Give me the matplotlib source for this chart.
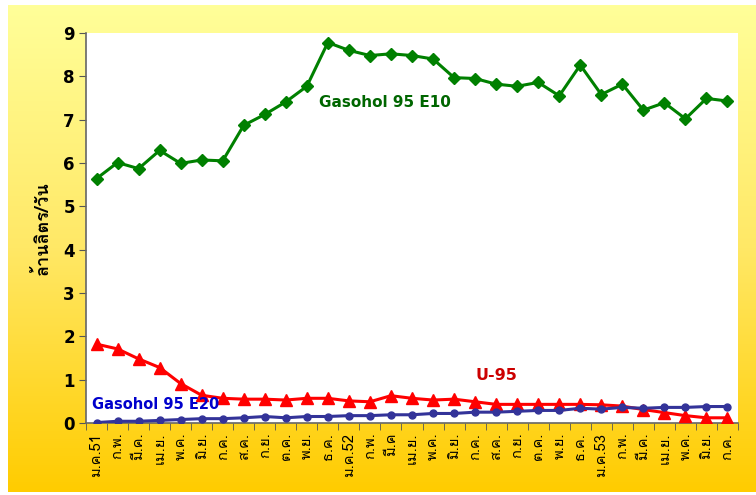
import numpy as np
import matplotlib
matplotlib.use("Agg")
import matplotlib.pyplot as plt
from matplotlib import font_manager
from matplotlib.colors import LinearSegmentedColormap

# ---- data ----
months = ["ม.ค.51", "ก.พ.", "มี.ค.", "เม.ย.", "พ.ค.", "มิ.ย.", "ก.ค.", "ส.ค.", "ก.ย.", "ต.ค.", "พ.ย.", "ธ.ค.",
          "ม.ค.52", "ก.พ.", "มี.ค", "เม.ย.", "พ.ค.", "มิ.ย.", "ก.ค.", "ส.ค.", "ก.ย.", "ต.ค.", "พ.ย.", "ธ.ค.",
          "ม.ค.53", "ก.พ.", "มี.ค.", "เม.ย.", "พ.ค.", "มิ.ย.", "ก.ค."]
e10 = [5.64, 6.01, 5.87, 6.29, 5.99, 6.07, 6.05, 6.87, 7.12, 7.41, 7.77, 8.78,
       8.60, 8.48, 8.52, 8.48, 8.40, 7.97, 7.95, 7.82, 7.77, 7.86, 7.55, 8.26,
       7.58, 7.82, 7.22, 7.39, 7.02, 7.49, 7.43]
u95 = [1.82, 1.71, 1.48, 1.28, 0.91, 0.64, 0.57, 0.55, 0.55, 0.53, 0.57, 0.57,
       0.51, 0.49, 0.63, 0.57, 0.53, 0.55, 0.49, 0.43, 0.43, 0.43, 0.43, 0.43,
       0.42, 0.39, 0.31, 0.24, 0.17, 0.12, 0.12]
e20 = [0.01, 0.04, 0.04, 0.06, 0.08, 0.10, 0.10, 0.12, 0.15, 0.12, 0.15, 0.15,
       0.17, 0.17, 0.19, 0.19, 0.22, 0.22, 0.25, 0.25, 0.27, 0.29, 0.29, 0.34,
       0.32, 0.36, 0.34, 0.36, 0.36, 0.38, 0.38]
yticks = list(range(0, 10))

# ---- fonts: find one with Thai glyphs ----
def find_thai_fonts():
    fams = []
    try:
        from fontTools.ttLib import TTFont
    except Exception:
        return fams
    for fe in font_manager.fontManager.ttflist:
        if fe.name in fams:
            continue
        try:
            f = TTFont(fe.fname, fontNumber=0, lazy=True)
            cmap = f.getBestCmap()
            if cmap and ord("ก") in cmap and ord("ล") in cmap:
                fams.append(fe.name)
        except Exception:
            pass
    return fams

thai = find_thai_fonts()
pref = ["Tahoma", "Loma", "Garuda", "Noto Sans Thai Looped", "Noto Sans Thai", "Noto Sans Thai UI", "Sarabun"]
thai_sorted = [p for p in pref if p in thai] + [t for t in thai if t not in pref]
family = thai_sorted[:1] + ["DejaVu Sans"]
plt.rcParams["font.family"] = family

W, H = 756, 495
fig = plt.figure(figsize=(W / 100, H / 100), dpi=100)
fig.patch.set_facecolor("white")

# gradient background
bg = fig.add_axes([8 / W, 1 - 492 / H, (756 - 8) / W, (492 - 5) / H], zorder=0)
cmap = LinearSegmentedColormap.from_list("g", ["#FFFF99", "#FFE866", "#FFCC00"])
grad = np.linspace(0, 1, 256).reshape(-1, 1)
bg.imshow(grad, aspect="auto", cmap=cmap, extent=[0, 1, 1, 0])
bg.set_axis_off()

ax = fig.add_axes([86 / W, 1 - 423 / H, (738 - 86) / W, (423 - 33) / H], zorder=1)
ax.set_facecolor("white")
x = np.arange(len(months))

ax.plot(x, e10, color="#008000", lw=2.2, marker="D", ms=6.5, mec="#008000", mfc="#008000", zorder=3)
ax.plot(x, u95, color="#FF0000", lw=2.2, marker="^", ms=9, mec="#FF0000", mfc="#FF0000", zorder=3)
ax.plot(x, e20, color="#333399", lw=2.2, marker="o", ms=5, mec="#333399", mfc="#333399", zorder=4)

ax.set_xlim(-0.5, len(months) - 0.5)
ax.set_ylim(0, 9)
ax.set_yticks(yticks)
ax.set_yticklabels([str(v) for v in yticks], fontsize=12, fontweight="bold", family=["DejaVu Sans"])
ax.set_xticks(x)
ax.set_xticklabels(months, rotation=90, fontsize=10.5, va="top", ha="center")
ax.set_xticks(np.arange(-0.5, len(months), 1), minor=True)
ax.tick_params(axis="x", which="major", length=0, pad=7)
ax.tick_params(axis="x", which="minor", length=5, direction="out", color="#555555")
ax.tick_params(axis="y", which="major", length=5, direction="out", color="#555555", pad=3)

for s in ["top", "right"]:
    ax.spines[s].set_visible(False)
for s in ["left", "bottom"]:
    ax.spines[s].set_color("#666666")
    ax.spines[s].set_linewidth(1.2)

ax.set_ylabel("ล้านลิตร/วัน", fontsize=13, fontweight="bold", labelpad=8)

ax.text(10.6, 7.4, "Gasohol 95 E10", color="#006600", fontsize=11, fontweight="bold",
        family=["DejaVu Sans"], va="center", ha="left")
ax.text(18.0, 1.1, "U-95", color="#CC0000", fontsize=11.5, fontweight="bold",
        family=["DejaVu Sans"], va="center", ha="left")
ax.text(-0.2, 0.42, "Gasohol 95 E20", color="#0000CC", fontsize=10.5, fontweight="bold",
        family=["DejaVu Sans"], va="center", ha="left")

fig.savefig("out.png", dpi=100)
